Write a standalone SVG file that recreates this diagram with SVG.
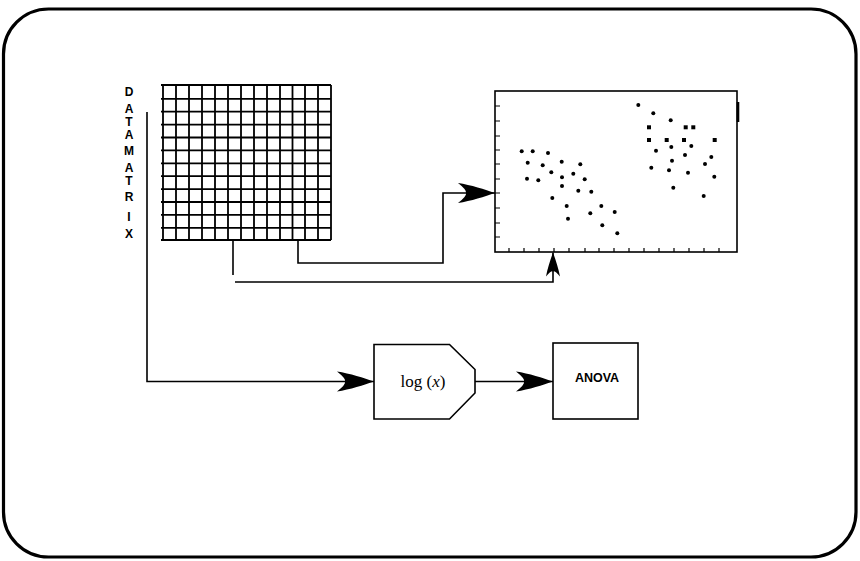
<svg xmlns="http://www.w3.org/2000/svg" width="860" height="561" viewBox="0 0 860 561">
<defs>
<style>
.frame{fill:none;stroke:#000;stroke-width:3.2}
.ln{fill:none;stroke:#000;stroke-width:1.6}
.grid{fill:none;stroke:#000;stroke-width:1.8}
.tick{fill:none;stroke:#000;stroke-width:1.2}
.box{fill:#fff;stroke:#000;stroke-width:1.6}
.dot{fill:#000}
.vt{font-family:"Liberation Sans",Arial,sans-serif;font-weight:bold;font-size:12px;text-anchor:middle;fill:#000}
.lg{font-family:"Liberation Serif","Times New Roman",serif;font-size:17px;text-anchor:middle;fill:#000}
.an{font-family:"Liberation Sans",Arial,sans-serif;font-weight:bold;font-size:12.5px;text-anchor:middle;fill:#000}
</style>
<marker id="ah" markerUnits="userSpaceOnUse" viewBox="-38 -11 40 22" refX="0" refY="0" markerWidth="40" markerHeight="22" orient="auto" overflow="visible">
<path d="M0,0 C-10,-3.5 -24,-8 -37,-10 Q-28,-3 -29,0 Q-28,3 -37,10 C-24,8 -10,3.5 0,0 Z" fill="#000"/>
</marker>
<marker id="ahs" markerUnits="userSpaceOnUse" viewBox="-26 -8 28 16" refX="0" refY="0" markerWidth="28" markerHeight="16" orient="auto" overflow="visible">
<path d="M0,0 C-7,-2.5 -16,-5.5 -24,-7 Q-18,-2 -19,0 Q-18,2 -24,7 C-16,5.5 -7,2.5 0,0 Z" fill="#000"/>
</marker>
</defs>
<rect x="0" y="0" width="860" height="561" fill="#fff"/>
<rect class="frame" x="3.5" y="9" width="852.5" height="548" rx="45" ry="45"/>

<g id="datamatrix">
<g id="grid-lines" class="grid">
<path d="M161,85H331M161,98.8H331M161,111.7H331M161,124.6H331M161,137.5H331M161,150.4H331M161,163.3H331M161,176.2H331M161,189.1H331M161,202H331M161,214.9H331M161,227.8H331M161,240H331"/>
<path d="M163,85V240M176,85V240M189,85V240M202,85V240M215,85V240M228,85V240M241,85V240M254,85V240M267,85V240M280,85V240M292.5,85V240M305,85V240M318,85V240M331,85V240"/>
</g>
<g id="label">
<text class="vt" x="129" y="96">D</text>
<text class="vt" x="129" y="113">A</text>
<text class="vt" x="129" y="126">T</text>
<text class="vt" x="129" y="138.5">A</text>
<text class="vt" x="129" y="155">M</text>
<text class="vt" x="129" y="171.5">A</text>
<text class="vt" x="129" y="185">T</text>
<text class="vt" x="129" y="200.5">R</text>
<text class="vt" x="129" y="220.5">I</text>
<text class="vt" x="129" y="237.5">X</text>
</g>
</g>

<g id="scatterplot">
<rect class="box" x="495" y="91" width="242" height="161"/>
<path d="M738,102V122" stroke="#000" stroke-width="2.6"/>
<g class="tick">
<path d="M495,106h5M495,121h5M495,136h5M495,150h5M495,164h5M495,179h5M495,193h5M495,208h5M495,223h5M495,237h5"/>
<path d="M509,252v-4M524,252v-4M539,252v-4M554,252v-4M569,252v-4M585,252v-4M599,252v-4M614,252v-4M629,252v-4M644,252v-4M659,252v-4M674,252v-4M689,252v-4M704,252v-4M719,252v-4"/>
</g>
<g class="dot">
<circle cx="521.7" cy="151.3" r="2"/>
<circle cx="532.7" cy="151.3" r="2"/>
<circle cx="548" cy="153" r="2"/>
<circle cx="527.7" cy="162.7" r="2"/>
<circle cx="542.7" cy="165.3" r="2"/>
<circle cx="561.7" cy="161.7" r="2"/>
<circle cx="580.3" cy="164.3" r="2"/>
<circle cx="551.3" cy="172.3" r="2"/>
<circle cx="573.3" cy="173.7" r="2"/>
<circle cx="527" cy="178.7" r="2"/>
<circle cx="538.3" cy="180.3" r="2"/>
<circle cx="562" cy="177.3" r="2"/>
<circle cx="584.7" cy="179.3" r="2"/>
<circle cx="562" cy="186" r="2"/>
<circle cx="578.3" cy="190.7" r="2"/>
<circle cx="591.3" cy="191.7" r="2"/>
<circle cx="552.3" cy="198" r="2"/>
<circle cx="566.7" cy="206" r="2"/>
<circle cx="601.3" cy="206" r="2"/>
<circle cx="590.3" cy="213.3" r="2"/>
<circle cx="614.7" cy="212" r="2"/>
<circle cx="568" cy="218.7" r="2"/>
<circle cx="602.3" cy="225.3" r="2"/>
<circle cx="617.3" cy="233.3" r="2"/>
<circle cx="638.3" cy="105" r="2"/>
<circle cx="653.3" cy="113.3" r="2"/>
<circle cx="670.7" cy="120.3" r="2"/>
<rect x="647" y="125.3" width="4" height="4"/>
<rect x="683.7" y="125.3" width="4" height="4"/>
<rect x="691.3" y="125.3" width="4" height="4"/>
<rect x="647" y="138" width="4" height="4"/>
<rect x="664.7" y="138" width="4" height="4"/>
<rect x="682" y="138" width="4" height="4"/>
<rect x="712.7" y="138" width="4" height="4"/>
<circle cx="656" cy="150.7" r="2"/>
<circle cx="671.3" cy="147" r="2"/>
<circle cx="691.3" cy="146" r="2"/>
<circle cx="672" cy="160.7" r="2"/>
<circle cx="685" cy="155" r="2"/>
<circle cx="711.3" cy="157" r="2"/>
<circle cx="705" cy="164" r="2"/>
<circle cx="651.3" cy="167.7" r="2"/>
<circle cx="669" cy="170.3" r="2"/>
<circle cx="688" cy="172.7" r="2"/>
<circle cx="714.3" cy="176.7" r="2"/>
<circle cx="673.3" cy="187.7" r="2"/>
<circle cx="703.7" cy="196" r="2"/>
</g>
</g>

<g id="log-node">
<path class="box" d="M374,344.5H449.5L475,369.5V393L449.5,419H374Z"/>
<text class="lg" x="423" y="387">log (<tspan font-style="italic">x</tspan>)</text>
</g>

<g id="anova-node">
<rect class="box" x="553" y="343" width="85" height="76"/>
<text class="an" x="597" y="381.5">ANOVA</text>
</g>

<g id="connectors" class="ln">
<path d="M298,240V263H443V193H495" marker-end="url(#ah)"/>
<path d="M233,240V275"/>
<path d="M235,282H553V252.5" marker-end="url(#ahs)"/>
<path d="M147,112V381.5H374" marker-end="url(#ah)"/>
<path d="M475,381.5H553" marker-end="url(#ah)"/>
</g>
</svg>
